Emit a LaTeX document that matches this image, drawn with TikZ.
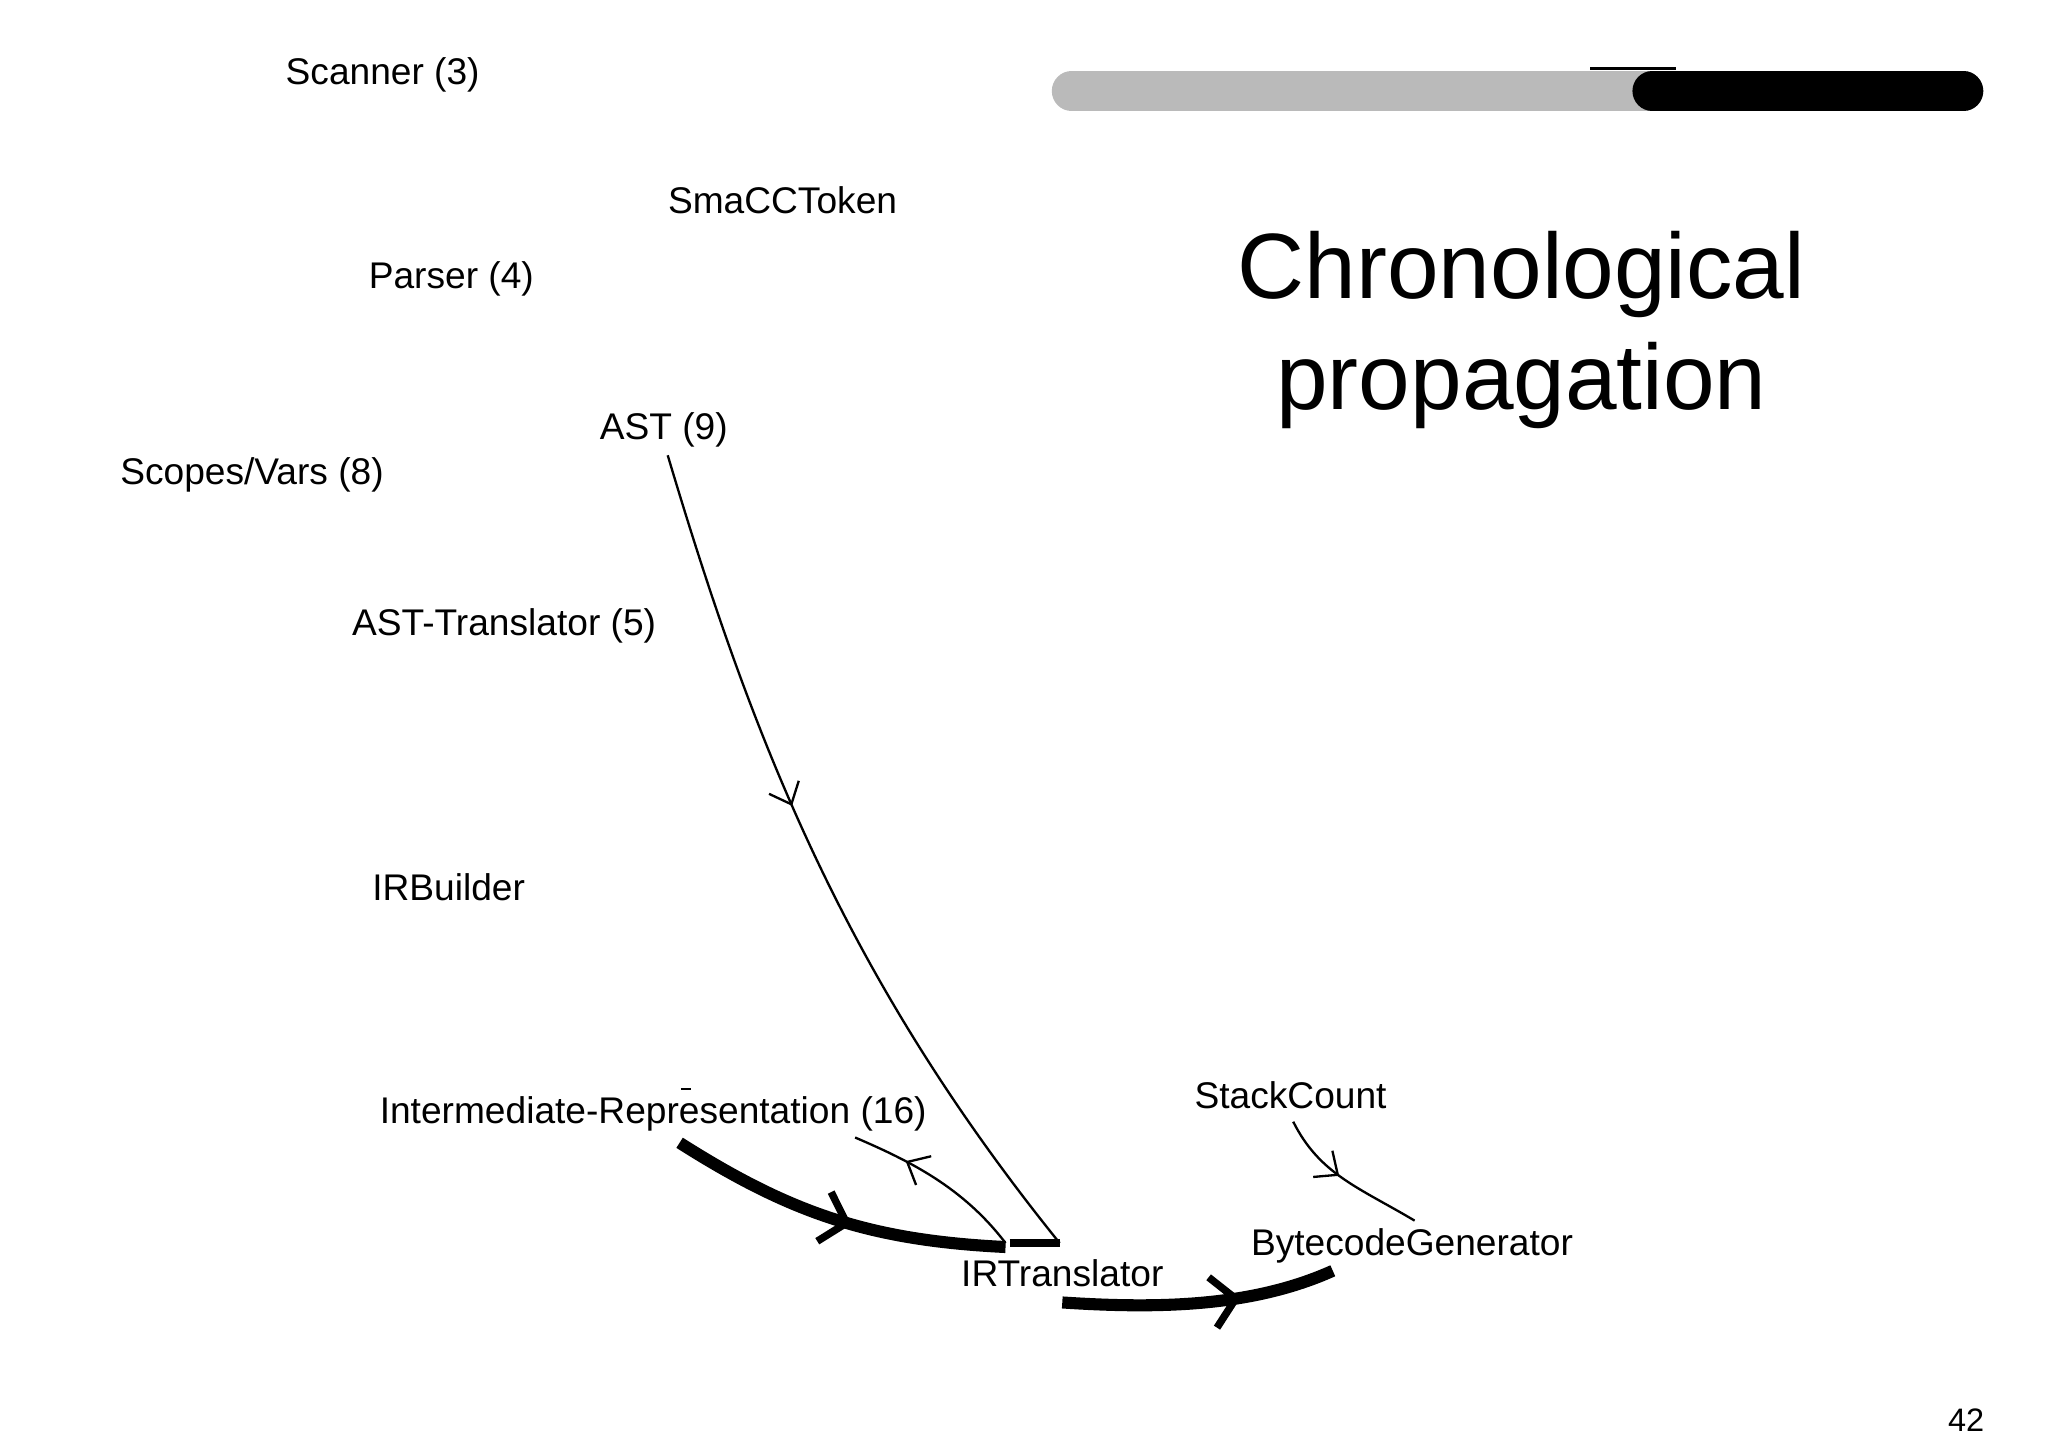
\documentclass[tikz,border=0pt]{standalone}
\usepackage{fontspec}
\setmainfont{Liberation Sans}
\usetikzlibrary{decorations.markings,arrows.meta}
\begin{document}
\begin{tikzpicture}[x=0.01cm,y=-0.01cm,
  lbl/.style={font=\fontsize{8}{9}\selectfont, inner sep=0pt},
  thin/.style={line width=0.5pt},
  midarr/.style={postaction={decorate},decoration={markings,mark=at position #1 with {\arrow{Straight Barb[length=4pt,width=7pt]}}}},
  thickarr/.style={line width=2.6pt,postaction={decorate},decoration={markings,mark=at position #1 with {\arrow[line width=1.6pt]{Straight Barb[length=5pt,width=11pt]}}}}]
\useasboundingbox (0,0) rectangle (1552,1097);
% progress bar
\draw[line width=8.5pt, line cap=round, color=black!27] (812,69) -- (1488,69);
\draw[line width=8.5pt, line cap=round] (1252,69) -- (1488,69);
\draw[line width=0.6pt] (1205,52) -- (1270,52);
% labels
\node[lbl] (scan) at (290,57) {Scanner (3)};
\node[lbl] (tok) at (593,152) {SmaCCToken};
\node[lbl] (pars) at (342,211) {Parser (4)};
\node[lbl] (ast) at (503,326) {AST (9)};
\node[lbl] (scope) at (191,360) {Scopes/Vars (8)};
\node[lbl] (astt) at (382,474) {AST-Translator (5)};
\node[lbl] (irb) at (340,672) {IRBuilder};
\node[lbl] (ir) at (495,844) {Intermediate-Representation (16)};
\node[lbl] (sc) at (978,830) {StackCount};
\node[lbl] (bg) at (1070,944) {BytecodeGenerator};
\node[lbl] (irt) at (805,965) {IRTranslator};
\node[font=\fontsize{20}{24}\selectfont, align=center, inner sep=0pt] (title) at (1153,250) {Chronological\\propagation};
\node[font=\fontsize{7}{8}\selectfont, inner sep=0pt] (pg) at (1490,1076) {42};
% connectors
\coordinate (a1) at (506,345);
\coordinate (a2) at (803,942);
\draw[thin, midarr=0.42] (a1) .. controls (570,560) and (640,740) .. (a2);
\draw[line width=1.6pt] (765,942) -- (a2);
\coordinate (b1) at (762,942);
\coordinate (b2) at (648,862);
\draw[thin, midarr=0.7] (b1) .. controls (730,900) and (690,880) .. (b2);
\coordinate (c1) at (515,866);
\coordinate (c2) at (762,945);
\draw[thickarr=0.55] (c1) .. controls (600,920) and (660,940) .. (c2);
\coordinate (d1) at (805,987);
\coordinate (d2) at (1010,963);
\draw[thickarr=0.65] (d1) .. controls (880,992) and (950,990) .. (d2);
\coordinate (e1) at (980,850);
\coordinate (e2) at (1072,925);
\draw[thin, midarr=0.45] (e1) .. controls (1000,890) and (1030,900) .. (e2);
\draw[thin] (516,825) -- (524,825);
\end{tikzpicture}
\end{document}
